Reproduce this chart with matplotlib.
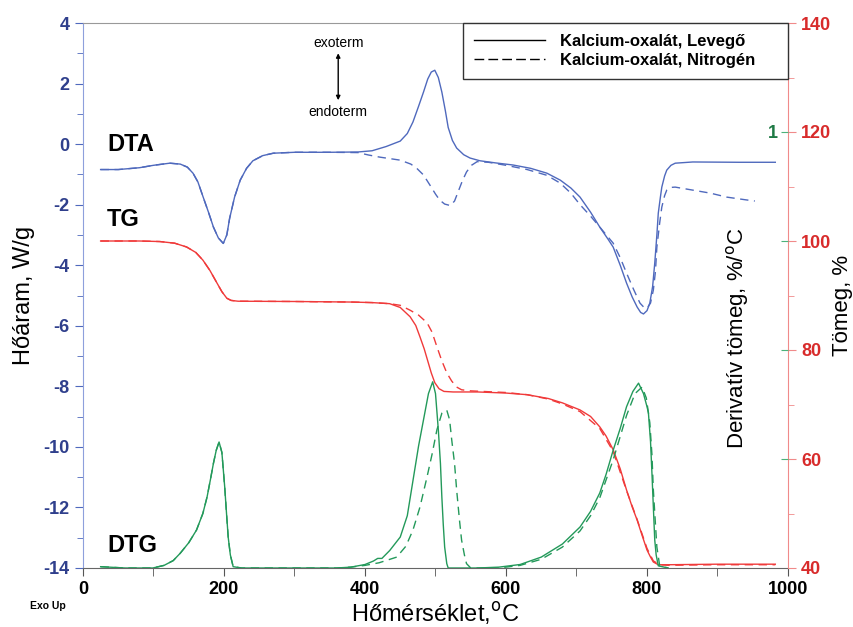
import matplotlib.pyplot as plt
from matplotlib.lines import Line2D
from matplotlib.ticker import MultipleLocator, FixedLocator

plt.rcParams["font.family"] = ["Liberation Sans", "DejaVu Sans"]
plt.rcParams["axes.unicode_minus"] = False

# DTA, W/g -- air (Levegő)
dta_air_t = [25, 50, 80, 100, 123, 138, 148, 156, 163, 170, 178, 185, 192, 199,
             204, 208, 215, 223, 232, 241, 255, 270, 300, 350, 390, 410, 430,
             450, 460, 468, 476, 483, 489, 494, 499, 504, 509, 514, 518, 524,
             530, 540, 549, 563, 585, 610, 635, 658, 677, 692, 705, 720, 733,
             745, 752, 762, 771, 779, 786, 791, 795, 800, 804, 808, 811, 814,
             816, 819, 821, 825, 828, 834, 840, 865, 930, 982]
dta_air = [-0.84, -0.84, -0.78, -0.70, -0.63, -0.66, -0.76, -0.96, -1.25, -1.72,
           -2.25, -2.74, -3.10, -3.28, -3.00, -2.45, -1.75, -1.19, -0.80, -0.55,
           -0.38, -0.30, -0.27, -0.27, -0.26, -0.22, -0.08, 0.10, 0.35, 0.73,
           1.25, 1.72, 2.15, 2.38, 2.44, 2.20, 1.72, 1.10, 0.55, 0.12, -0.13,
           -0.35, -0.46, -0.55, -0.62, -0.69, -0.80, -0.96, -1.19, -1.45, -1.75,
           -2.25, -2.74, -3.15, -3.40, -4.00, -4.59, -5.05, -5.38, -5.56, -5.61,
           -5.50, -5.25, -4.70, -3.93, -3.00, -2.28, -1.75, -1.42, -1.05, -0.86,
           -0.70, -0.63, -0.59, -0.60, -0.60]

# DTA, W/g -- nitrogen
dta_n2_t = [25, 50, 80, 100, 123, 138, 148, 156, 163, 170, 178, 185, 192, 199,
            204, 208, 215, 223, 232, 241, 255, 270, 300, 350, 390, 405, 421,
            450, 465, 473, 483, 492, 500, 506, 513, 521, 527, 532, 538, 544,
            551, 559, 575, 600, 630, 658, 677, 692, 705, 720, 733, 752, 762,
            771, 781, 790, 796, 800, 805, 809, 812, 814, 818, 821, 825, 828,
            834, 840, 865, 890, 913, 940, 953]
dta_n2 = [-0.84, -0.84, -0.78, -0.70, -0.63, -0.66, -0.76, -0.96, -1.25, -1.72,
          -2.25, -2.74, -3.10, -3.28, -3.00, -2.45, -1.75, -1.19, -0.80, -0.55,
          -0.38, -0.30, -0.27, -0.27, -0.28, -0.36, -0.43, -0.53, -0.66, -0.79,
          -1.02, -1.35, -1.65, -1.85, -1.98, -2.03, -1.88, -1.58, -1.22, -0.92,
          -0.70, -0.58, -0.60, -0.70, -0.84, -1.03, -1.29, -1.62, -2.00, -2.38,
          -2.74, -3.27, -3.75, -4.26, -4.80, -5.25, -5.40, -5.42, -5.25, -4.82,
          -4.20, -3.40, -2.60, -2.08, -1.70, -1.52, -1.43, -1.42, -1.52, -1.62,
          -1.75, -1.84, -1.88]

# TG, mass %
tg_air_t = [25, 80, 109, 130, 147, 160, 170, 180, 190, 197, 204, 210, 220, 300,
            380, 410, 435, 450, 464, 472, 478, 484, 489, 494, 499, 505, 512,
            525, 560, 600, 630, 660, 680, 705, 720, 733, 742, 752, 762, 771,
            779, 786, 793, 800, 805, 809, 816, 830, 900, 982]
tg_air = [100.0, 100.0, 99.9, 99.6, 98.9, 97.9, 96.5, 94.6, 92.3, 90.7, 89.5,
          89.1, 88.95, 88.9, 88.8, 88.7, 88.5, 87.8, 86.1, 84.5, 82.4, 80.2,
          78.0, 75.8, 74.0, 72.9, 72.4, 72.3, 72.3, 72.1, 71.8, 71.1, 70.3,
          69.0, 67.8, 65.9, 64.2, 61.7, 58.2, 54.3, 51.2, 48.8, 46.0, 43.3,
          42.0, 41.1, 40.6, 40.6, 40.7, 40.7]

tg_n2_t = [25, 80, 109, 130, 147, 160, 170, 180, 190, 197, 204, 210, 220, 300,
           380, 410, 435, 450, 464, 476, 488, 495, 502, 509, 516, 523, 530,
           537, 550, 600, 630, 660, 680, 705, 733, 752, 771, 786, 800, 809,
           818, 830, 900, 982]
tg_n2 = [100.0, 100.0, 99.9, 99.6, 98.9, 97.9, 96.5, 94.6, 92.3, 90.7, 89.5,
         89.1, 88.95, 88.9, 88.8, 88.7, 88.5, 88.2, 87.3, 86.4, 85.0, 83.3,
         80.6, 78.0, 75.8, 74.3, 73.2, 72.7, 72.5, 72.2, 71.8, 71.0, 70.1,
         68.7, 65.6, 61.4, 54.2, 48.9, 43.6, 41.3, 40.6, 40.5, 40.6, 40.6]

# DTG, %/°C
dtg_air_t = [25, 60, 99, 115, 128, 138, 150, 161, 170, 176, 181, 185, 189, 193,
             197, 201, 204, 206, 209, 213, 225, 360, 380, 400, 412, 418, 424,
             435, 450, 460, 468, 476, 483, 490, 496, 500, 504, 507, 509, 511,
             513, 516, 518, 560, 590, 620, 650, 680, 705, 720, 733, 742, 752,
             762, 771, 780, 788, 795, 800, 802, 805, 807, 809, 811, 813, 816,
             830]
dtg_air = [0.003, 0.0, 0.0, 0.006, 0.017, 0.034, 0.058, 0.087, 0.125, 0.163,
           0.205, 0.240, 0.270, 0.289, 0.265, 0.186, 0.115, 0.070, 0.030, 0.003,
           0.0, 0.0, 0.002, 0.008, 0.016, 0.022, 0.022, 0.040, 0.071, 0.120,
           0.200, 0.280, 0.340, 0.400, 0.427, 0.400, 0.317, 0.240, 0.163, 0.100,
           0.048, 0.010, 0.0, 0.0, 0.002, 0.008, 0.025, 0.055, 0.094, 0.130,
           0.172, 0.215, 0.270, 0.320, 0.370, 0.405, 0.424, 0.400, 0.370, 0.356,
           0.290, 0.218, 0.140, 0.064, 0.030, 0.005, 0.0]

dtg_n2_t = [25, 60, 99, 115, 128, 138, 150, 161, 170, 176, 181, 185, 189, 193,
            197, 201, 204, 206, 209, 213, 225, 360, 380, 400, 420, 445, 458,
            468, 478, 488, 495, 502, 509, 516, 520, 523, 527, 530, 534, 537,
            541, 544, 550, 590, 620, 650, 680, 705, 720, 733, 752, 771, 783,
            793, 799, 804, 807, 809, 812, 814, 818, 830]
dtg_n2 = [0.003, 0.0, 0.0, 0.006, 0.017, 0.034, 0.058, 0.087, 0.125, 0.163,
          0.205, 0.240, 0.270, 0.289, 0.265, 0.186, 0.115, 0.070, 0.030, 0.003,
          0.0, 0.0, 0.002, 0.006, 0.012, 0.025, 0.050, 0.087, 0.140, 0.209,
          0.260, 0.317, 0.355, 0.362, 0.340, 0.294, 0.240, 0.179, 0.110, 0.064,
          0.030, 0.010, 0.0, 0.0, 0.006, 0.020, 0.048, 0.085, 0.120, 0.161,
          0.248, 0.350, 0.400, 0.415, 0.390, 0.333, 0.260, 0.179, 0.100, 0.048,
          0.005, 0.0]

legend_labels = ["Kalcium-oxalát, Levegő", "Kalcium-oxalát, Nitrogén"]

C_DTA = "#4f69bd"
C_TG = "#f03a3a"
C_DTG = "#23995a"
C_LEFT = "#2f3f8c"
C_RIGHT = "#d82b2b"
DASH = (0, (6, 4))

fig = plt.figure(figsize=(8.54, 6.27), dpi=100)
ax = fig.add_axes([83 / 854, 1 - 568 / 627, 705 / 854, 545 / 627])
ax_m = ax.twinx()
ax_d = ax.twinx()

# heat flow
ax.plot(dta_air_t, dta_air, color=C_DTA, lw=1.0)
ax.plot(dta_n2_t, dta_n2, color=C_DTA, lw=1.0, ls=DASH)
ax.set_xlim(0, 1000)
ax.set_ylim(-14, 4)
ax.yaxis.set_major_locator(MultipleLocator(2))
ax.yaxis.set_minor_locator(MultipleLocator(1))
ax.xaxis.set_major_locator(MultipleLocator(200))
ax.xaxis.set_minor_locator(MultipleLocator(100))
ax.tick_params(axis="y", which="both", colors=C_DTA, labelcolor=C_LEFT,
               labelsize=13, direction="out")
ax.tick_params(axis="y", which="major", length=6)
ax.tick_params(axis="y", which="minor", length=4)
ax.tick_params(axis="x", which="both", colors="#555555", labelcolor="black",
               labelsize=13, direction="out")
ax.tick_params(axis="x", which="major", length=6)
ax.tick_params(axis="x", which="minor", length=6)
for lab in ax.get_yticklabels() + ax.get_xticklabels():
    lab.set_fontweight("bold")
ax.spines["left"].set_color("#8ea0dc")
ax.spines["top"].set_color("#999999")
ax.spines["bottom"].set_color("#666666")
ax.spines["right"].set_visible(False)
ax.set_ylabel("Hőáram, W/g", fontsize=17, labelpad=6)
ax.set_xlabel("Hőmérséklet,$^{\\mathrm{o}}$C", fontsize=17, labelpad=1)

# mass
ax_m.plot(tg_air_t, tg_air, color=C_TG, lw=1.0)
ax_m.plot(tg_n2_t, tg_n2, color=C_TG, lw=1.0, ls=DASH)
ax_m.set_ylim(40, 140)
ax_m.yaxis.set_major_locator(MultipleLocator(20))
ax_m.yaxis.set_minor_locator(MultipleLocator(10))
ax_m.tick_params(axis="y", which="both", colors="#f08a8a", labelcolor=C_RIGHT,
                 labelsize=13, direction="out")
ax_m.tick_params(axis="y", which="major", length=6)
ax_m.tick_params(axis="y", which="minor", length=4)
for lab in ax_m.get_yticklabels():
    lab.set_fontweight("bold")
ax_m.spines["right"].set_color("#f08a8a")
for s in ("left", "top", "bottom"):
    ax_m.spines[s].set_visible(False)
fig.text(843 / 854, 1 - 305 / 627, "Tömeg, %", rotation=90, fontsize=16,
         ha="center", va="center")

# derivative mass
ax_d.plot(dtg_air_t, dtg_air, color=C_DTG, lw=1.0)
ax_d.plot(dtg_n2_t, dtg_n2, color=C_DTG, lw=1.0, ls=DASH)
ax_d.set_ylim(0, 1.25)
ax_d.yaxis.set_major_locator(FixedLocator([0.25, 0.5, 0.75, 1.0]))
ax_d.set_yticklabels(["", "", "", "1"])
ax_d.tick_params(axis="y", colors="#4cb27a", labelcolor="#1f7a45",
                 labelsize=13, direction="in", length=5, pad=-7)
for lab in ax_d.get_yticklabels():
    lab.set_horizontalalignment("right")
    lab.set_fontweight("bold")
for s in ax_d.spines.values():
    s.set_visible(False)
fig.text(738 / 854, 1 - 338 / 627, "Derivatív tömeg, %/$^{\\mathrm{o}}$C",
         rotation=90, fontsize=16, ha="center", va="center")

# curve names and exo/endo marker
ax.text(34, 0.0, "DTA", fontsize=17, fontweight="bold", va="center")
ax.text(34, -2.5, "TG", fontsize=17, fontweight="bold", va="center")
ax.text(34, -13.25, "DTG", fontsize=17, fontweight="bold", va="center")
ax.text(362, 3.34, "exoterm", fontsize=10, ha="center", va="center")
ax.text(362, 1.06, "endoterm", fontsize=10, ha="center", va="center")
ax.annotate("", xy=(362, 3.0), xytext=(362, 1.45),
            arrowprops=dict(arrowstyle="<|-|>", color="black", lw=1.0,
                            mutation_scale=6, shrinkA=0, shrinkB=0))
fig.text(30 / 854, 1 - 606 / 627, "Exo Up", fontsize=7.5, fontweight="bold",
         va="center")

handles = [Line2D([], [], color="black", lw=1.0),
           Line2D([], [], color="black", lw=1.0, ls=(0, (7, 3)))]
x0 = (463 - 83) / 705
leg = ax_d.legend(handles, legend_labels, loc="upper left",
                  bbox_to_anchor=(x0, 0.0, 1.0 - x0, 1.0), mode="expand",
                  borderaxespad=0, fancybox=False, framealpha=1,
                  edgecolor="#333333", handlelength=4.3, handletextpad=0.9,
                  borderpad=0.65, labelspacing=0.25,
                  prop={"weight": "bold", "size": 12})
leg.get_frame().set_linewidth(1.0)

fig.savefig("out.png", dpi=100)
